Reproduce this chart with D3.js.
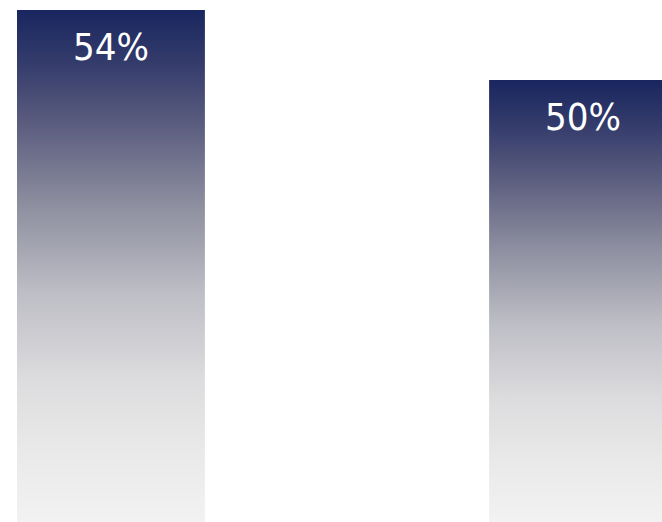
<!DOCTYPE html>
<html>
<head>
<meta charset="utf-8">
<script src="https://cdn.jsdelivr.net/npm/d3@7"></script>
<style>
  html, body { margin: 0; padding: 0; background: #fff; overflow: hidden; }
</style>
</head>
<body>
<div id="chart"></div>
<script>
// values
const categories = ['A', 'B'];
const values = [54, 50];
const labels = ['54%', '50%'];

const width = 662;
const height = 522;

const svg = d3
  .select('#chart')
  .append('svg')
  .attr('width', width)
  .attr('height', height);

// chart is cropped: bars run past the bottom and right edges
const x = d3.scaleBand().domain(categories).range([17, 677]).paddingInner(0.602).paddingOuter(0);
const y = d3.scaleLinear().domain([50, 54]).range([80, 10]);

const defs = svg.append('defs');
const stops = [
  [0, '#19265f'],
  [0.1, '#333b6b'],
  [0.22, '#5a5c7e'],
  [0.38, '#8d8e9f'],
  [0.55, '#bdbdc5'],
  [0.72, '#dcdcde'],
  [0.86, '#e9e9e9'],
  [1, '#f2f2f2']
];

values.forEach((v, i) => {
  const g = defs
    .append('linearGradient')
    .attr('id', 'grad' + i)
    .attr('gradientUnits', 'userSpaceOnUse')
    .attr('x1', 0)
    .attr('x2', 0)
    .attr('y1', y(v))
    .attr('y2', height);
  stops.forEach((s) => g.append('stop').attr('offset', s[0]).attr('stop-color', s[1]));
});

svg
  .selectAll('rect.bar')
  .data(values)
  .enter()
  .append('rect')
  .attr('class', 'bar')
  .attr('x', (_d, i) => x(categories[i]))
  .attr('y', (d) => y(d))
  .attr('width', x.bandwidth())
  .attr('height', (d) => height - y(d))
  .attr('fill', (_d, i) => `url(#grad${i})`);

svg
  .selectAll('text.lbl')
  .data(values)
  .enter()
  .append('text')
  .attr('class', 'lbl')
  .attr('x', (_d, i) => x(categories[i]) + x.bandwidth() / 2)
  .attr('y', (d) => y(d) + 50)
  .attr('text-anchor', 'middle')
  .attr('font-family', '"DejaVu Sans Condensed", "DejaVu Sans", sans-serif')
  .attr('font-stretch', 'condensed')
  .attr('font-size', '38px')
  .attr('fill', '#fff')
  .text((_d, i) => labels[i]);
</script>
</body>
</html>
